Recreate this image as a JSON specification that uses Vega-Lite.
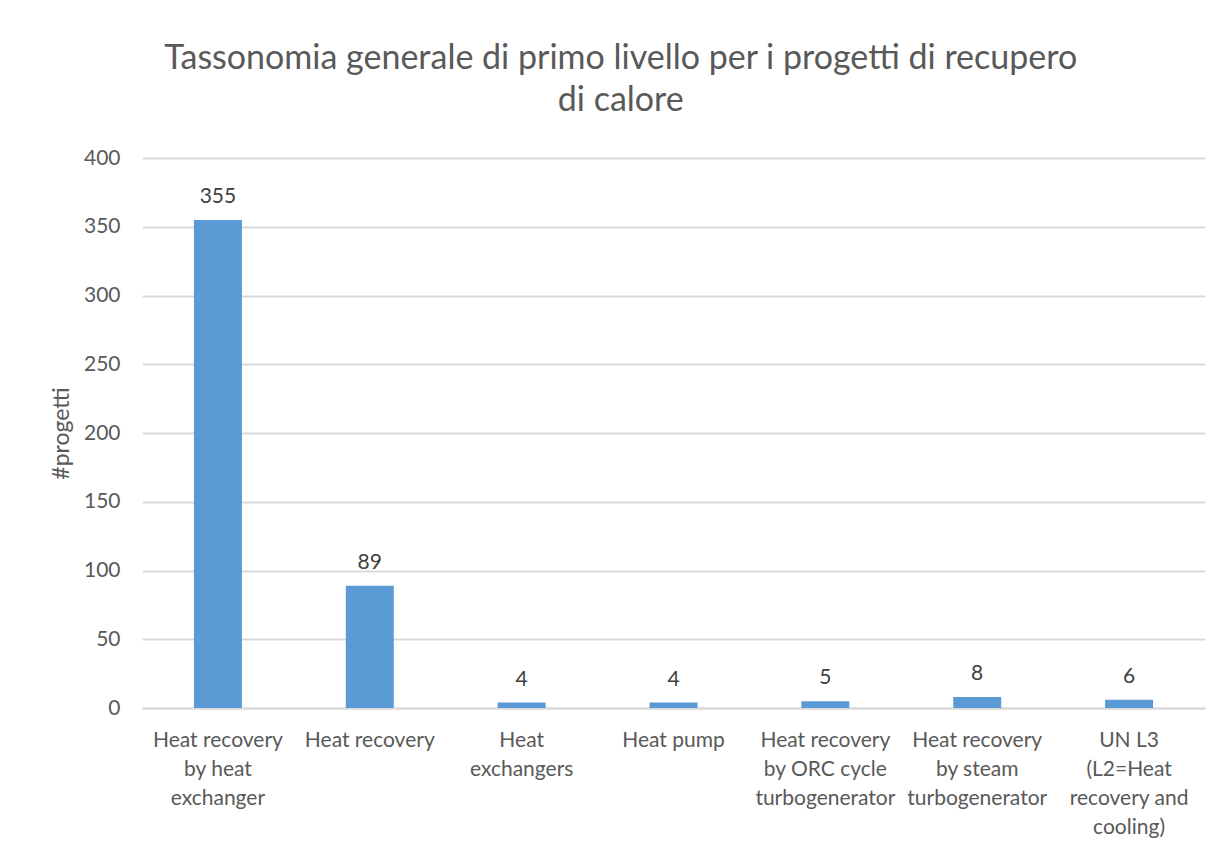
{
  "$schema": "https://vega.github.io/schema/vega-lite/v6.json",
  "width": 1063,
  "height": 550,
  "padding": {"left": 50, "top": 42, "right": 20, "bottom": 5},
  "background": "white",
  "title": {
    "text": ["Tassonomia generale di primo livello per i progetti di recupero", "di calore"],
    "anchor": "middle",
    "frame": "bounds",
    "dx": -7,
    "font": "Lato",
    "fontSize": 34,
    "fontWeight": "normal",
    "color": "#595959",
    "lineHeight": 42,
    "offset": 29
  },
  "data": {
    "values": [
      {"categoria": "Heat recovery\nby heat\nexchanger", "progetti": 355},
      {"categoria": "Heat recovery", "progetti": 89},
      {"categoria": "Heat\nexchangers", "progetti": 4},
      {"categoria": "Heat pump", "progetti": 4},
      {"categoria": "Heat recovery\nby ORC cycle\nturbogenerator", "progetti": 5},
      {"categoria": "Heat recovery\nby steam\nturbogenerator", "progetti": 8},
      {"categoria": "UN L3\n(L2=Heat\nrecovery and\ncooling)", "progetti": 6}
    ]
  },
  "encoding": {
    "x": {
      "field": "categoria",
      "type": "nominal",
      "sort": null,
      "scale": {"paddingInner": 0, "paddingOuter": 0},
      "axis": {
        "title": null,
        "labelAngle": 0,
        "labelExpr": "split(datum.label, '\\n')",
        "labelFont": "Lato",
        "labelFontSize": 21,
        "labelColor": "#595959",
        "labelLineHeight": 29,
        "labelPadding": 21,
        "labelBaseline": "top",
        "labelLimit": 0,
        "ticks": false,
        "domainColor": "#D9D9D9",
        "domainWidth": 2,
        "grid": false
      }
    },
    "y": {
      "field": "progetti",
      "type": "quantitative",
      "scale": {"domain": [0, 400], "nice": false},
      "axis": {
        "title": "#progetti",
        "titleFont": "Lato",
        "titleFontSize": 23,
        "titleFontWeight": "normal",
        "titleColor": "#595959",
        "titlePadding": 10,
        "values": [0, 50, 100, 150, 200, 250, 300, 350, 400],
        "labelFont": "Lato",
        "labelFontSize": 21,
        "labelColor": "#595959",
        "labelPadding": 22,
        "ticks": false,
        "domain": false,
        "gridColor": "#D9D9D9",
        "gridWidth": 2
      }
    }
  },
  "layer": [
    {
      "mark": {"type": "bar", "color": "#5B9BD5", "width": {"band": 0.316}}
    },
    {
      "mark": {"type": "text", "font": "Lato", "fontSize": 21, "color": "#404040", "baseline": "alphabetic", "dy": -17},
      "encoding": {"text": {"field": "progetti", "type": "quantitative"}}
    }
  ],
  "config": {"view": {"stroke": null}}
}
